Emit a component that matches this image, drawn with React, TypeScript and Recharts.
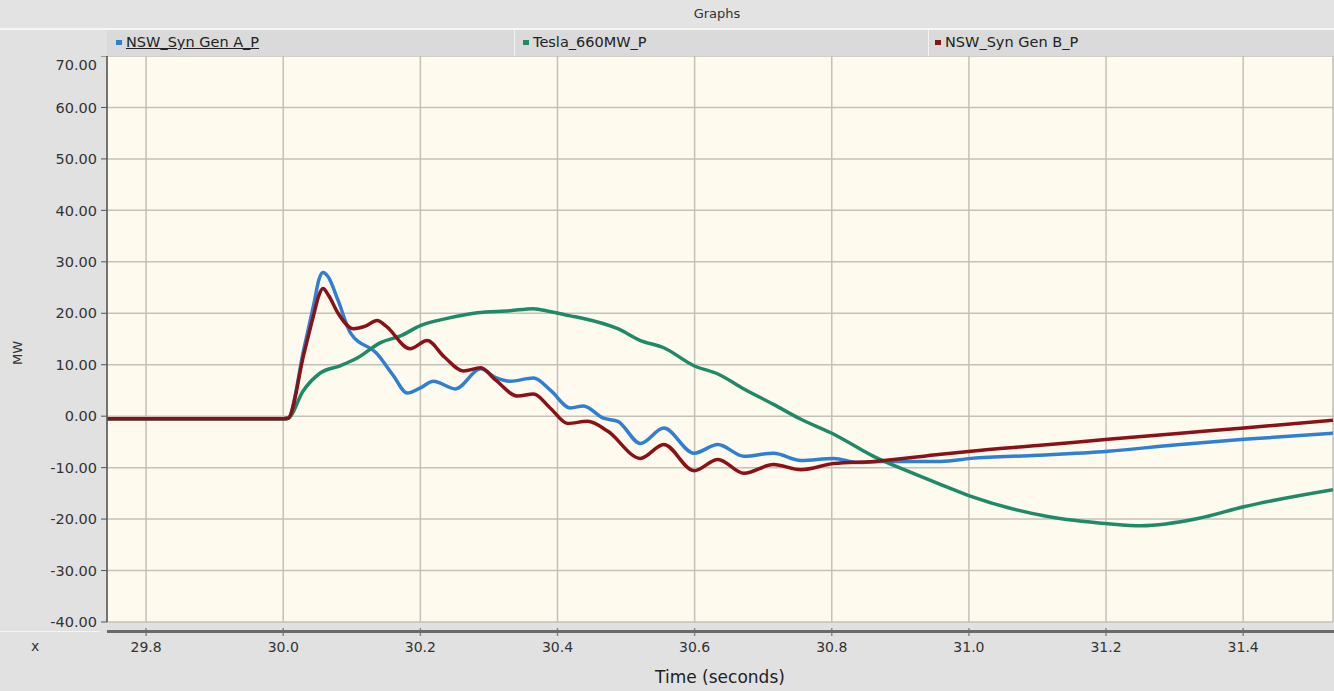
import { LineChart, Line, XAxis, YAxis, CartesianGrid } from "recharts";

// time (s) / power (MW) samples
const genATimes = [29.743, 30.0, 30.007, 30.03, 30.045, 30.052, 30.058, 30.065, 30.08, 30.098, 30.137, 30.16, 30.181, 30.2, 30.219, 30.251, 30.288, 30.31, 30.331, 30.365, 30.39, 30.419, 30.438, 30.467, 30.488, 30.521, 30.555, 30.599, 30.634, 30.672, 30.715, 30.755, 30.803, 30.838, 30.872, 30.959, 31.003, 31.1, 31.203, 31.3, 31.401, 31.531];
const genAValues = [-0.5, -0.5, -0.4, 13, 22, 26.5, 27.9, 27.2, 22.5, 16.2, 12.1, 8.0, 4.5, 5.5, 6.8, 5.3, 9.2, 7.5, 6.8, 7.4, 5.0, 1.6, 2.0, -0.4, -1.0, -5.3, -2.3, -7.2, -5.5, -7.8, -7.2, -8.6, -8.2, -9.0, -8.8, -8.8, -8.2, -7.6, -6.8, -5.6, -4.5, -3.3];

const teslaTimes = [29.743, 30.0, 30.007, 30.029, 30.054, 30.083, 30.108, 30.142, 30.171, 30.2, 30.239, 30.283, 30.331, 30.365, 30.375, 30.419, 30.438, 30.488, 30.521, 30.555, 30.599, 30.634, 30.672, 30.715, 30.755, 30.803, 30.861, 30.911, 30.959, 31.003, 31.115, 31.203, 31.251, 31.334, 31.401, 31.531];
const teslaValues = [-0.5, -0.5, -0.4, 4.9, 8.4, 9.8, 11.3, 14.3, 15.6, 17.6, 19.0, 20.1, 20.5, 20.9, 20.7, 19.5, 19.0, 17.0, 14.7, 13.3, 9.8, 8.2, 5.3, 2.3, -0.6, -3.5, -7.8, -10.7, -13.3, -15.6, -19.5, -20.9, -21.3, -19.9, -17.6, -14.3];

const genBTimes = [29.743, 30.0, 30.007, 30.03, 30.045, 30.052, 30.058, 30.066, 30.08, 30.102, 30.12, 30.137, 30.15, 30.185, 30.21, 30.235, 30.263, 30.288, 30.31, 30.342, 30.365, 30.39, 30.415, 30.444, 30.473, 30.521, 30.555, 30.599, 30.634, 30.672, 30.715, 30.755, 30.803, 30.861, 30.959, 31.003, 31.1, 31.203, 31.3, 31.401, 31.531];
const genBValues = [-0.5, -0.5, -0.4, 12, 20, 23.5, 24.8, 23.5, 20, 17.0, 17.5, 18.6, 17.5, 13.1, 14.7, 11.5, 8.8, 9.4, 7.0, 3.9, 4.3, 1.5, -1.4, -1.0, -2.9, -8.2, -5.5, -10.6, -8.4, -11.1, -9.4, -10.4, -9.2, -8.8, -7.4, -6.8, -5.7, -4.5, -3.4, -2.3, -0.8];

const xTicks = [29.8, 30.0, 30.2, 30.4, 30.6, 30.8, 31.0, 31.2, 31.4];
const yTicks = [-40, -30, -20, -10, 0, 10, 20, 30, 40, 50, 60, 70];

const series = [
  { key: "genA", name: "NSW_Syn Gen A_P", color: "#2f7fd2", times: genATimes, values: genAValues, legendX: 116, underline: true },
  { key: "tesla", name: "Tesla_660MW_P", color: "#1e8a68", times: teslaTimes, values: teslaValues, legendX: 523, underline: false },
  { key: "genB", name: "NSW_Syn Gen B_P", color: "#8a1216", times: genBTimes, values: genBValues, legendX: 935, underline: false },
];

const FONT = "'DejaVu Sans', sans-serif";

function XTick(props: any) {
  const { x, y, payload } = props;
  return (
    <g>
      <line x1={x} x2={x} y1={y + 6} y2={y + 14} stroke="#8a8a8a" strokeWidth={1.5} />
      <text x={x} y={y + 30} textAnchor="middle" fill="#333" fontSize={14} fontFamily={FONT}>
        {Number(payload.value).toFixed(1)}
      </text>
    </g>
  );
}

function MWLabel(props: any) {
  const vb = props.viewBox || { x: 0, y: 0, height: 0 };
  const cx = vb.x + 17;
  const cy = vb.y + vb.height / 2 + 14;
  return (
    <text
      x={cx}
      y={cy}
      transform={`rotate(-90 ${cx} ${cy})`}
      textAnchor="middle"
      dominantBaseline="central"
      fill="#333"
      fontSize={13}
      fontFamily={FONT}
    >
      MW
    </text>
  );
}

export default function App() {
  return (
    <div
      style={{
        position: "absolute",
        left: 0,
        top: 0,
        width: 1334,
        height: 691,
        background: "#e1e1e1",
        fontFamily: FONT,
        overflow: "hidden",
      }}
    >
      {/* title band */}
      <div style={{ position: "absolute", left: 0, top: 0, width: 1334, height: 28, background: "#e3e3e3" }} />
      <div
        style={{
          position: "absolute",
          left: 0,
          top: 6,
          width: 1434,
          textAlign: "center",
          fontSize: 13,
          color: "#333",
        }}
      >
        Graphs
      </div>
      <div style={{ position: "absolute", left: 0, top: 28, width: 1334, height: 2, background: "#f6f6f6" }} />
      {/* legend band */}
      <div style={{ position: "absolute", left: 107, top: 30, width: 1227, height: 26, background: "#dadada" }} />
      <div style={{ position: "absolute", left: 514, top: 30, width: 1, height: 26, background: "#f2f2f2" }} />
      <div style={{ position: "absolute", left: 928, top: 30, width: 1, height: 26, background: "#f2f2f2" }} />
      {series.map((s) => (
        <div
          key={s.key}
          style={{ position: "absolute", left: s.legendX, top: 33, height: 18, display: "flex", alignItems: "center", fontSize: 14.5, color: "#222" }}
        >
          <span style={{ display: "inline-block", width: 6, height: 5, background: s.color, marginRight: 4 }} />
          <span style={{ textDecoration: s.underline ? "underline" : "none" }}>{s.name}</span>
        </div>
      ))}

      <div style={{ position: "absolute", left: 0, top: 56 }}>
        <LineChart
          width={1334}
          height={635}
          margin={{ top: 0, right: 1, bottom: 0, left: 0 }}
          style={{ fontFamily: FONT }}
        >
          <CartesianGrid fill="#fffaee" stroke="#c4c1b9" strokeWidth={1.5} />
          <XAxis
            type="number"
            dataKey="t"
            domain={[29.743, 31.531]}
            ticks={xTicks}
            allowDataOverflow
            height={69}
            axisLine={false}
            tickLine={false}
            tickSize={0}
            tickMargin={0}
            tick={<XTick />}
            label={{ value: "Time (seconds)", position: "insideBottom", offset: 8, fill: "#222", fontSize: 17 }}
          />
          <YAxis
            type="number"
            domain={[-40, 70]}
            ticks={yTicks}
            width={107}
            axisLine={{ stroke: "#555", strokeWidth: 1.5 }}
            tickLine={{ stroke: "#555" }}
            tickSize={6}
            tickMargin={4}
            tick={{ fill: "#333", fontSize: 14.5, fontFamily: FONT }}
            tickFormatter={(v: number) => v.toFixed(2)}
            label={<MWLabel />}
          />
          {series.map((s) => (
            <Line
              key={s.key}
              data={s.times.map((t, i) => ({ t, v: s.values[i] }))}
              dataKey="v"
              name={s.name}
              type="monotone"
              stroke={s.color}
              strokeWidth={3.5}
              dot={false}
              isAnimationActive={false}
            />
          ))}
        </LineChart>
      </div>

      {/* x axis rule and row label */}
      <div style={{ position: "absolute", left: 107, top: 630, width: 1227, height: 3, background: "#6a6a6a" }} />
      <div style={{ position: "absolute", left: 0, top: 631, width: 100, height: 1, background: "#f4f4f4" }} />
      <div style={{ position: "absolute", left: 31, top: 638, fontSize: 14, color: "#333" }}>x</div>
    </div>
  );
}
